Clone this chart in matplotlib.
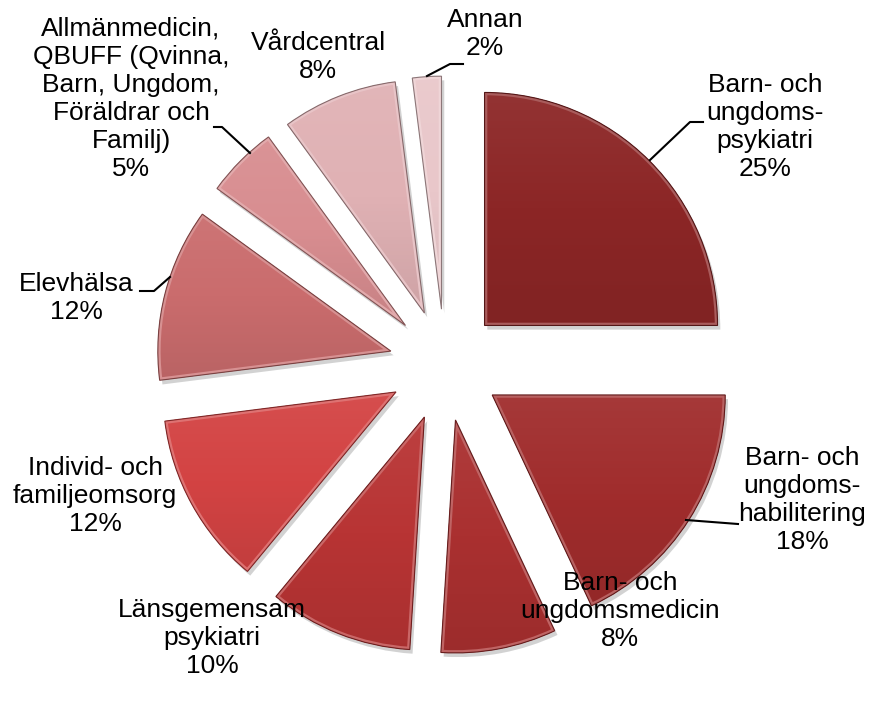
import numpy as np
import matplotlib.pyplot as plt
import matplotlib.patheffects as pe
from matplotlib.patches import PathPatch
from matplotlib.colors import to_rgb, LinearSegmentedColormap

plt.rcParams['font.family'] = ['Liberation Sans', 'DejaVu Sans']

categories = [
    "Barn- och\nungdoms-\npsykiatri",
    "Barn- och\nungdoms-\nhabilitering",
    "Barn- och\nungdomsmedicin",
    "Länsgemensam\npsykiatri",
    "Individ- och\nfamiljeomsorg",
    "Elevhälsa",
    "Allmänmedicin,\nQBUFF (Qvinna,\nBarn, Ungdom,\nFöräldrar och\nFamilj)",
    "Vårdcentral",
    "Annan",
]
values = [25, 18, 8, 10, 12, 12, 5, 8, 2]
colors = ["#8c2626", "#a02c2c", "#aa3030", "#b83434", "#d34343",
          "#ca6c6d", "#d88d90", "#e0b1b4", "#e9c7ca"]

# pixel layout of the reference (870x709), pie centre and radius in px
W, H = 870, 709
CX, CY, R = 445, 365, 233


def px(x, y):
    return (x - CX) / R, (CY - y) / R


# label centres and leader lines in pixels
label_pos = [(765, 127), (802, 500), (620, 611), (212, 638), (95, 496),
             (76, 298), (131, 99), (318, 57), (485, 34)]
leaders = {
    0: [(650, 160), (690, 122), (703, 122)],
    1: [(686, 520), (738, 524)],
    5: [(140, 291), (154, 291), (170, 277)],
    6: [(214, 127), (222, 127), (250, 153)],
    8: [(463, 64), (450, 64), (427, 76)],
}

fig = plt.figure(figsize=(W / 100, H / 100), dpi=100)
ax = fig.add_axes([0, 0, 1, 1])

wedges, _ = ax.pie(values, colors=colors, startangle=90, counterclock=False,
                   explode=[0.24] * len(values), radius=1,
                   wedgeprops=dict(edgecolor='none'))

ax.set_xlim(-CX / R, (W - CX) / R)
ax.set_ylim(-(H - CY) / R, CY / R)
ax.set_aspect('equal')
ax.axis('off')

for w, c in zip(wedges, colors):
    w.set_path_effects([pe.SimplePatchShadow(offset=(2, -3), shadow_rgbFace='#909090', alpha=0.4),
                        pe.Normal()])
    base = np.array(to_rgb(c))
    top = base + (1 - base) * 0.06
    bot = base * 0.92
    cmap = LinearSegmentedColormap.from_list('g', [bot, base, top])
    x0, y0, x1, y1 = w.get_window_extent().transformed(ax.transData.inverted()).extents
    grad = np.linspace(1, 0, 64).reshape(-1, 1)
    im = ax.imshow(grad, cmap=cmap, extent=(x0, x1, y0, y1), aspect='auto',
                   zorder=w.get_zorder() + 0.1, origin='upper')
    im.set_clip_path(w)
    # light bevel just inside the edge, then a dark outline
    bevel = PathPatch(w.get_path(), transform=w.get_transform(), facecolor='none',
                      edgecolor=tuple(base + (1 - base) * 0.25), lw=4,
                      zorder=w.get_zorder() + 0.2)
    ax.add_patch(bevel)
    bevel.set_clip_path(w)
    ax.add_patch(PathPatch(w.get_path(), transform=w.get_transform(), facecolor='none',
                           edgecolor=tuple(base * 0.6), lw=0.8,
                           zorder=w.get_zorder() + 0.3))

ax.set_xlim(-CX / R, (W - CX) / R)
ax.set_ylim(-(H - CY) / R, CY / R)

for i, (cat, v) in enumerate(zip(categories, values)):
    x, y = px(*label_pos[i])
    ax.text(x, y, f"{cat}\n{v}%", ha='center', va='center', ma='center',
            fontsize=19, linespacing=1.22, color='black')

for i, pts in leaders.items():
    xs, ys = zip(*[px(*p) for p in pts])
    ax.plot(xs, ys, color='black', lw=1.5)

fig.savefig('out.png', dpi=100)
